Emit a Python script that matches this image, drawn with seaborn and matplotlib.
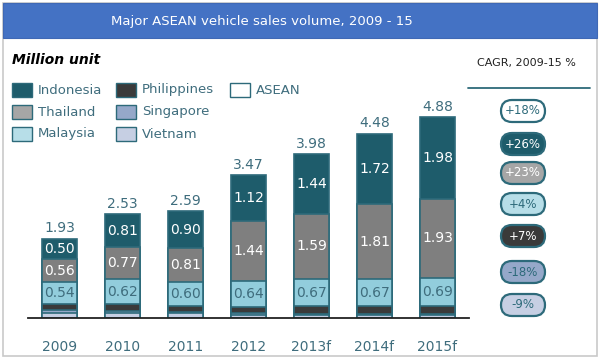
import pandas as pd
import matplotlib
matplotlib.use('Agg')
import matplotlib.pyplot as plt
import seaborn as sns
from matplotlib.patches import Rectangle, FancyBboxPatch

# chart values (million units)
years = ['2009', '2010', '2011', '2012', '2013f', '2014f', '2015f']
indonesia = [0.50, 0.81, 0.90, 1.12, 1.44, 1.72, 1.98]
thailand = [0.56, 0.77, 0.81, 1.44, 1.59, 1.81, 1.93]
malaysia = [0.54, 0.62, 0.60, 0.64, 0.67, 0.67, 0.69]
philippines = [0.13, 0.17, 0.14, 0.16, 0.18, 0.18, 0.19]
singapore = [0.08, 0.04, 0.03, 0.03, 0.03, 0.03, 0.02]
vietnam = [0.12, 0.12, 0.11, 0.08, 0.07, 0.07, 0.07]
asean_total = [1.93, 2.53, 2.59, 3.47, 3.98, 4.48, 4.88]

legend_names = ['Indonesia', 'Thailand', 'Malaysia', 'Philippines', 'Singapore', 'Vietnam', 'ASEAN']
cagr_names = ['ASEAN', 'Indonesia', 'Thailand', 'Malaysia', 'Philippines', 'Singapore', 'Vietnam']
cagr_labels = ['+18%', '+26%', '+23%', '+4%', '+7%', '-18%', '-9%']

sns.set_theme(style='white')
plt.rcParams['font.family'] = ['DejaVu Sans']

TEAL = '#2D6A7A'
TXT = '#3F6D7D'
bar_col = {'Indonesia': '#1E5C6B', 'Thailand': '#7F7F7F', 'Malaysia': '#92CDDC',
           'Philippines': '#3A3A3A', 'Singapore': '#95A8C9', 'Vietnam': '#C6CFE3'}
key_col = {'ASEAN': '#FFFFFF', 'Indonesia': '#1E5C6B', 'Thailand': '#A6A6A6', 'Malaysia': '#B7DEE8',
           'Philippines': '#3A3A3A', 'Singapore': '#95A8C9', 'Vietnam': '#C6CFE3'}
badge_txt = {'ASEAN': TEAL, 'Indonesia': 'white', 'Thailand': 'white', 'Malaysia': TEAL,
             'Philippines': 'white', 'Singapore': TEAL, 'Vietnam': TEAL}

df = pd.DataFrame({'year': years, 'Indonesia': indonesia, 'Thailand': thailand,
                   'Malaysia': malaysia, 'Philippines': philippines,
                   'Singapore': singapore, 'Vietnam': vietnam})
stack = ['Vietnam', 'Singapore', 'Philippines', 'Malaysia', 'Thailand', 'Indonesia']
cum = df[stack].cumsum(axis=1)
for s in stack:
    df[s + '_top'] = cum[s]

fig = plt.figure(figsize=(6.01, 3.62), dpi=100)

# background / frame layer in pixel coordinates
bg = fig.add_axes([0, 0, 1, 1], zorder=0)
bg.set_xlim(0, 601)
bg.set_ylim(362, 0)
bg.axis('off')
bg.add_patch(Rectangle((3, 3), 594, 353, facecolor='white', edgecolor='#C9C9C9', lw=1.2))
bg.add_patch(Rectangle((3, 3), 594, 35, facecolor='#4472C4', edgecolor='#3F68B5', lw=0.8))
bg.text(262, 21, 'Major ASEAN vehicle sales volume, 2009 - 15', color='white',
        fontsize=9.5, ha='center', va='center')
bg.text(12, 60, 'Million unit', fontsize=10, fontweight='bold', fontstyle='italic',
        color='black', ha='left', va='center')
bg.text(526, 63, 'CAGR, 2009-15 %', fontsize=8, color='#222222', ha='center', va='center')
bg.plot([468, 590], [88, 88], color=TEAL, lw=1.3)

# legend keys
pos = {'Indonesia': (12, 90), 'Thailand': (12, 112), 'Malaysia': (12, 134),
       'Philippines': (116, 90), 'Singapore': (116, 112), 'Vietnam': (116, 134),
       'ASEAN': (230, 90)}
for name in legend_names:
    x, y = pos[name]
    bg.add_patch(Rectangle((x, y - 7), 20, 14, facecolor=key_col[name], edgecolor=TEAL, lw=1))
    bg.text(x + 26, y, name, fontsize=9.5, color=TXT, ha='left', va='center')

# CAGR badges
badge_y = [111, 144, 173, 204, 236, 272, 305]
for name, lab, y in zip(cagr_names, cagr_labels, badge_y):
    bg.add_patch(FancyBboxPatch((501, y - 11), 44, 22,
                                boxstyle='round,pad=0,rounding_size=11',
                                facecolor=key_col[name], edgecolor=TEAL, lw=1.6))
    bg.text(523, y, lab, fontsize=8.5, color=badge_txt[name], ha='center', va='center')

# stacked bars: draw cumulative tops, largest first
ax = fig.add_axes([28 / 601, 44 / 362, 441 / 601, 218 / 362], zorder=1)
ax.patch.set_alpha(0)
for s in stack[::-1]:
    sns.barplot(data=df, x='year', y=s + '_top', color=bar_col[s], saturation=1,
                width=0.565, edgecolor=TEAL, linewidth=1.2, errorbar=None, ax=ax)
ax.set_ylim(0, 5.3)
ax.set_xlim(-0.5, 6.5)

for i in range(len(years)):
    for s, tc in [('Indonesia', 'white'), ('Thailand', 'white'), ('Malaysia', TXT)]:
        v = df.loc[i, s]
        mid = df.loc[i, s + '_top'] - v / 2
        ax.text(i, mid, f'{v:.2f}', color=tc, fontsize=10, ha='center', va='center')
    ax.text(i, asean_total[i] + 0.08, f'{asean_total[i]:.2f}', color=TXT, fontsize=10,
            ha='center', va='bottom')

ax.set_xlabel('')
ax.set_ylabel('')
ax.set_yticks([])
ax.set_xticks(range(len(years)))
ax.set_xticklabels(years)
ax.tick_params(axis='x', length=0, pad=16, labelsize=10, labelcolor=TXT)
for sp in ['top', 'left', 'right']:
    ax.spines[sp].set_visible(False)
ax.spines['bottom'].set_color('#222222')
ax.spines['bottom'].set_linewidth(1.3)

fig.savefig('out.png', dpi=100)
